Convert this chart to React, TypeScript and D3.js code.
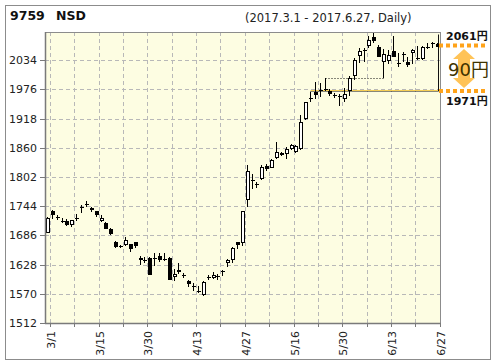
import React from 'react';
import * as d3 from 'd3';

// trading days 2017.3.1 - 2017.6.27
const dates = [
  '3/1', '3/2', '3/3', '3/6', '3/7', '3/8', '3/9', '3/10', '3/13', '3/14', '3/15', '3/16', '3/17', '3/21', '3/22', '3/23', '3/24', '3/27', '3/28', '3/29', '3/30', '3/31',
  '4/3', '4/4', '4/5', '4/6', '4/7', '4/10', '4/11', '4/12', '4/13', '4/14', '4/17', '4/18', '4/19', '4/20', '4/21', '4/24', '4/25', '4/26', '4/27', '4/28',
  '5/1', '5/2', '5/8', '5/9', '5/10', '5/11', '5/12', '5/15', '5/16', '5/17', '5/18', '5/19', '5/22', '5/23', '5/24', '5/25', '5/26', '5/29', '5/30', '5/31',
  '6/1', '6/2', '6/5', '6/6', '6/7', '6/8', '6/9', '6/12', '6/13', '6/14', '6/15', '6/16', '6/19', '6/20', '6/21', '6/22', '6/23', '6/26', '6/27',
];

const opens = [
  1691, 1734, 1722, 1715, 1715, 1706, 1720, 1742, 1746, 1741, 1734, 1715, 1711, 1699, 1672, 1664, 1667, 1668, 1672, 1638,
  1637, 1641, 1641, 1646, 1638, 1642, 1603, 1613, 1607, 1596, 1586, 1576, 1567, 1602, 1602, 1604, 1616, 1632, 1637, 1672,
  1670, 1756, 1797, 1787, 1799, 1823, 1820, 1839, 1845, 1847, 1857, 1851, 1857, 1917, 1956, 1970, 1973, 1975, 1972, 1965,
  1962, 1957, 1972, 2002, 2042, 2054, 2062, 2081, 2061, 2030, 2033, 2053, 2027, 2046, 2031, 2048, 2039, 2036, 2060, 2067,
  2066,
];
const highs = [
  1722, 1737, 1726, 1720, 1718, 1717, 1728, 1746, 1755, 1743, 1735, 1726, 1713, 1700, 1675, 1667, 1682, 1669, 1673, 1646,
  1644, 1643, 1651, 1651, 1652, 1644, 1619, 1632, 1612, 1598, 1591, 1585, 1595, 1607, 1614, 1610, 1617, 1639, 1662, 1673,
  1735, 1825, 1807, 1792, 1825, 1828, 1838, 1871, 1851, 1862, 1868, 1866, 1925, 1951, 1971, 1990, 1989, 1999, 1976, 1969,
  1966, 1979, 2002, 2038, 2058, 2058, 2082, 2089, 2065, 2056, 2054, 2082, 2048, 2050, 2040, 2056, 2062, 2062, 2068, 2071,
  2069,
];
const lows = [
  1690, 1719, 1716, 1711, 1705, 1703, 1715, 1731, 1743, 1733, 1723, 1712, 1698, 1687, 1660, 1661, 1665, 1654, 1661, 1628,
  1632, 1607, 1626, 1633, 1636, 1597, 1596, 1610, 1601, 1584, 1575, 1571, 1566, 1597, 1599, 1598, 1606, 1624, 1631, 1659,
  1665, 1743, 1778, 1781, 1797, 1814, 1819, 1837, 1843, 1838, 1855, 1849, 1856, 1915, 1951, 1956, 1961, 1972, 1962, 1958,
  1943, 1951, 1962, 1994, 2028, 2031, 2058, 2068, 2040, 1999, 2026, 2040, 2021, 2031, 2021, 2027, 2035, 2035, 2056, 2058,
  2060,
];
const closes = [
  1721, 1726, 1720, 1714, 1707, 1716, 1721, 1743, 1748, 1736, 1726, 1721, 1699, 1688, 1663, 1665, 1676, 1658, 1665, 1642,
  1638, 1608, 1642, 1637, 1639, 1598, 1610, 1618, 1606, 1589, 1585, 1575, 1594, 1603, 1608, 1605, 1613, 1637, 1660, 1666,
  1734, 1813, 1796, 1788, 1822, 1818, 1836, 1852, 1849, 1857, 1866, 1864, 1912, 1950, 1958, 1964, 1975, 1976, 1966, 1963,
  1960, 1967, 1999, 2035, 2053, 2055, 2074, 2072, 2041, 2046, 2045, 2041, 2028, 2047, 2025, 2055, 2036, 2061, 2061, 2068,
  2061,
];

const yTicks = [1512, 1570, 1628, 1686, 1744, 1802, 1860, 1918, 1976, 2034];
const rangeHigh = 2061;
const rangeLow = 1971;

const App = () => {
  const left = 45;
  const right = 440;
  const top = 32;
  const bottom = 323;

  const x = d3.scaleLinear().domain([0, dates.length - 1]).range([47, 436.6]);
  const y = d3.scaleLinear().domain([1512, 2090]).range([bottom, top]);
  const px = (v: number) => Math.round(v) + 0.5;
  const tickX = (i: number) => px(x(i) + 3);

  const minorIdx = d3.range(0, dates.length, 5);
  const labelIdx = d3.range(0, dates.length, 10);

  const font = '"DejaVu Sans", Verdana, "Noto Sans CJK JP", sans-serif';

  // arrow between the two range markers
  const ax = 464;
  const arrow = [
    [ax, 49], [ax + 11, 59], [ax + 6, 59], [ax + 6, 78], [ax + 11, 78], [ax, 88],
    [ax - 11, 78], [ax - 6, 78], [ax - 6, 59], [ax - 11, 59],
  ].map(p => p.join(',')).join(' ');

  return (
    <div style={{ position: 'absolute', left: 0, top: 0 }}>
      <svg width={496} height={364} style={{ display: 'block', fontFamily: font }}>
        <rect x={0} y={0} width={496} height={364} fill="#fff" />
        <rect x={5.5} y={5.5} width={485} height={354} fill="none" stroke="#8c8c8c" />

        <text x={10} y={20} fontSize={12.5} fontWeight="bold" fill="#111">9759</text>
        <text x={56} y={20} fontSize={12.5} fontWeight="bold" fill="#111">NSD</text>
        <text x={245} y={22} fontSize={11.5} fill="#222">(2017.3.1 - 2017.6.27, Daily)</text>

        <rect x={left} y={top} width={right - left} height={bottom - top} fill="#fdfde2" />

        {yTicks.slice(1).map(t => (
          <line key={'hy' + t} x1={left} x2={right} y1={px(y(t))} y2={px(y(t))}
            stroke="#b8b8b8" strokeDasharray="4 3" />
        ))}
        {minorIdx.map(i => (
          <line key={'vx' + i} x1={tickX(i)} x2={tickX(i)} y1={top} y2={bottom}
            stroke="#b8b8b8" strokeDasharray="4 3" />
        ))}

        {/* support / range lines */}
        <line x1={px(x(57))} x2={px(x(69))} y1={px(y(1999))} y2={px(y(1999))}
          stroke="#111" strokeDasharray="1 2" />
        <line x1={px(x(54))} x2={right} y1={px(y(1974))} y2={px(y(1974))}
          stroke="#f7cf55" />
        <line x1={px(x(54))} x2={right - 2} y1={px(y(1972))} y2={px(y(1972))}
          stroke="#111" strokeDasharray="1 1" />
        <line x1={right - 1.5} x2={right - 1.5} y1={y(2085)} y2={y(1972)} stroke="#111" />

        {/* candles */}
        <g shapeRendering="crispEdges">
          {dates.map((d, i) => {
            const o = opens[i];
            const c = closes[i];
            const cx = px(x(i));
            const yt = Math.round(y(Math.max(o, c)));
            const yb = Math.round(y(Math.min(o, c)));
            const up = c >= o;
            return (
              <g key={d}>
                <line x1={cx} x2={cx} y1={y(highs[i])} y2={y(lows[i])} stroke="#000" />
                {yb - yt < 2 ? (
                  <line x1={cx - 2} x2={cx + 2} y1={yt + 0.5} y2={yt + 0.5} stroke="#000" />
                ) : (
                  <rect x={cx - 1.5} y={yt + 0.5} width={3} height={yb - yt - 1}
                    fill={up ? '#fff' : '#000'} stroke="#000" />
                )}
              </g>
            );
          })}
        </g>

        <rect x={left + 0.5} y={top + 0.5} width={right - left} height={bottom - top}
          fill="none" stroke="#8c8c8c" />
        <line x1={left + 0.5} x2={left + 0.5} y1={top} y2={bottom + 1} stroke="#7a7a7a" strokeWidth={1.5} />
        <line x1={left} x2={right + 1} y1={bottom + 0.5} y2={bottom + 0.5} stroke="#7a7a7a" strokeWidth={1.5} />

        {yTicks.map(t => (
          <g key={'yt' + t}>
            <line x1={40} x2={left} y1={px(y(t))} y2={px(y(t))} stroke="#7a7a7a" />
            <text x={37} y={y(t) + 4} fontSize={11} textAnchor="end" fill="#222">{t}</text>
          </g>
        ))}
        {minorIdx.map(i => (
          <line key={'xt' + i} x1={tickX(i)} x2={tickX(i)} y1={bottom} y2={bottom + 4} stroke="#7a7a7a" />
        ))}
        {labelIdx.map(i => (
          <text key={'xl' + i} transform={`translate(${tickX(i) + 4},331) rotate(-90)`}
            fontSize={11} textAnchor="end" fill="#222">{dates[i]}</text>
        ))}

        {/* price range marker */}
        <line x1={right - 1} x2={485} y1={y(rangeHigh) - 1} y2={y(rangeHigh) - 1}
          stroke="#ffa31a" strokeWidth={4} strokeDasharray="4 3" />
        <line x1={right - 1} x2={485} y1={y(rangeLow) - 1} y2={y(rangeLow) - 1}
          stroke="#ffa31a" strokeWidth={4} strokeDasharray="4 3" />
        <polygon points={arrow} fill="#ffbc45" opacity={0.9} />
        <text x={446} y={40} fontSize={11} fontWeight="bold" fill="#111">{rangeHigh}円</text>
        <text x={448} y={76} fontSize={18} fill="#3f3300">{rangeHigh - rangeLow}円</text>
        <text x={446} y={105} fontSize={11} fontWeight="bold" fill="#111">{rangeLow}円</text>
      </svg>
    </div>
  );
};

export default App;
